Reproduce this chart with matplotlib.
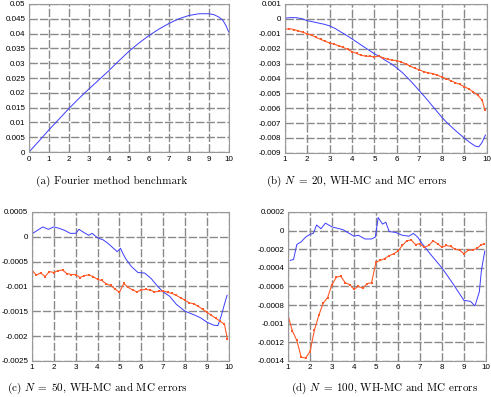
import matplotlib
matplotlib.use("Agg")
import matplotlib.pyplot as plt

plt.rcParams['font.family'] = ['Liberation Sans', 'DejaVu Sans']
plt.rcParams['mathtext.fontset'] = 'cm'

# (a) Fourier method benchmark
fourier_x = [0, 0.5, 1, 1.5, 2, 2.5, 3, 3.5, 4, 4.5, 5, 5.5, 6, 6.5, 7, 7.5, 8,
             8.5, 9, 9.25, 9.5, 9.7, 9.85, 10]
fourier_y = [0, 0.0037, 0.0075, 0.0111, 0.0147, 0.0181, 0.0213, 0.0244, 0.0275,
             0.0308, 0.0340, 0.0368, 0.0393, 0.0415, 0.0434, 0.0450, 0.0461,
             0.0467, 0.0467, 0.0464, 0.0456, 0.0445, 0.0428, 0.0405]

# MC error sample points (shared by b, c, d)
mc_x = [1.0, 1.2, 1.4, 1.6, 1.8, 2.0, 2.2, 2.4, 2.6, 2.8, 3.0, 3.2, 3.4, 3.6, 3.8,
        4.0, 4.2, 4.4, 4.6, 4.8, 5.0, 5.2, 5.4, 5.6, 5.8, 6.0, 6.2, 6.4, 6.6, 6.8,
        7.0, 7.2, 7.4, 7.6, 7.8, 8.0, 8.2, 8.4, 8.6, 8.8, 9.0, 9.2, 9.4, 9.6, 9.8, 9.93]

# (b) N = 20
whmc20_x = [1.0, 1.25, 1.5, 1.75, 2.0, 2.25, 2.5, 2.75, 3.0, 3.25, 3.5, 3.75, 4.0,
            4.25, 4.5, 4.75, 5.0, 5.25, 5.5, 5.75, 6.0, 6.25, 6.5, 6.75, 7.0, 7.25,
            7.5, 7.75, 8.0, 8.25, 8.5, 8.75, 9.0, 9.25, 9.5, 9.65, 9.8, 9.95]
whmc20_y = [0.00005, 0.00008, 0.00008, 0.00002, -0.00012, -0.0002, -0.00028,
            -0.00036, -0.00047, -0.00065, -0.00088, -0.0011, -0.00135, -0.0016,
            -0.00185, -0.0021, -0.00235, -0.00255, -0.0028, -0.00302, -0.0033,
            -0.00362, -0.004, -0.0044, -0.00483, -0.00525, -0.0057, -0.00615,
            -0.0066, -0.007, -0.00735, -0.00768, -0.008, -0.0083, -0.00855,
            -0.0086, -0.0083, -0.0078]
mc20_y = [-0.00072, -0.00065, -0.00072, -0.0008, -0.0009, -0.001, -0.0011,
          -0.00125, -0.00138, -0.0015, -0.00163, -0.0017, -0.0018, -0.00192,
          -0.00205, -0.0022, -0.00232, -0.00245, -0.0025, -0.00252, -0.00255,
          -0.0025, -0.00262, -0.00272, -0.00278, -0.0028, -0.0029, -0.00302,
          -0.00318, -0.00332, -0.00342, -0.00355, -0.00362, -0.00368, -0.00378,
          -0.0039, -0.00402, -0.00415, -0.00428, -0.0044, -0.00455, -0.0047,
          -0.0049, -0.00512, -0.00545, -0.00615]

# (c) N = 50
whmc50_x = [1.0, 1.25, 1.5, 1.75, 2.0, 2.25, 2.5, 2.75, 3.0, 3.15, 3.4, 3.6, 3.75,
            4.0, 4.25, 4.5, 4.75, 4.9, 5.05, 5.15, 5.3, 5.55, 5.85, 6.15, 6.45,
            6.75, 7.0, 7.3, 7.6, 8.0, 8.4, 8.7, 9.0, 9.3, 9.5, 9.65, 9.8, 9.92]
whmc50_y = [0.00006, 0.00013, 0.0002, 0.00015, 0.0002, 0.00017, 0.00013, 0.00007,
            0.00007, 0.00015, 0.00008, 0.00003, 0.00007, -0.00002, -0.00006,
            -0.00014, -0.00024, -0.0003, -0.00023, -0.00033, -0.00045, -0.0006,
            -0.00072, -0.00073, -0.00084, -0.001, -0.00111, -0.0012, -0.00136,
            -0.0015, -0.00157, -0.00163, -0.00172, -0.00178, -0.00179, -0.0016,
            -0.00136, -0.00118]
mc50_y = [-0.00067, -0.00077, -0.00073, -0.0008, -0.0007, -0.00072, -0.00068,
          -0.00067, -0.00074, -0.00076, -0.00076, -0.00082, -0.00078, -0.00077,
          -0.0008, -0.00086, -0.00088, -0.00095, -0.00098, -0.00105, -0.00112,
          -0.00094, -0.00102, -0.00107, -0.00111, -0.00107, -0.00106, -0.00107,
          -0.00111, -0.0011, -0.00109, -0.00112, -0.00114, -0.00118, -0.00123,
          -0.00128, -0.00133, -0.00135, -0.0014, -0.00146, -0.00152, -0.00158,
          -0.00164, -0.0017, -0.00176, -0.00205]

# (d) N = 100
whmc100_x = [1.1, 1.25, 1.4, 1.6, 1.8, 2.0, 2.15, 2.3, 2.5, 2.7, 3.0, 3.5, 4.0,
             4.2, 4.5, 4.8, 4.97, 5.1, 5.3, 5.45, 5.6, 5.9, 6.2, 6.5, 6.7, 6.9,
             7.1, 7.5, 8.0, 8.5, 9.0, 9.3, 9.5, 9.7, 9.8, 9.95]
whmc100_y = [-0.00032, -0.00031, -0.00015, -0.00012, -0.00007, -0.00004,
             -0.00003, 0.00006, 0.00002, 0.00008, 0.00004, 0.00001, -0.00006,
             -0.00005, -0.00009, -0.00009, -0.00007, 0.00014, 0.00007, 0.00009,
             -0.00001, -0.00002, -0.00005, -0.00006, -0.00003, -0.00007,
             -0.00014, -0.00026, -0.0004, -0.00057, -0.00075, -0.00076,
             -0.00081, -0.00066, -0.00042, -0.00022]
mc100_y = [-0.00091, -0.00108, -0.00118, -0.00136, -0.00137, -0.0013, -0.00107,
           -0.00091, -0.00078, -0.00072, -0.00058, -0.0005, -0.00049, -0.00056,
           -0.00058, -0.00063, -0.0006, -0.00062, -0.00057, -0.00056, -0.00034,
           -0.00032, -0.0003, -0.00027, -0.00025, -0.00022, -0.00016, -0.00011,
           -0.0001, -0.00015, -0.00014, -0.00018, -0.00016, -0.00011, -0.00014,
           -0.00018, -0.00016, -0.00017, -0.0002, -0.00021, -0.00025, -0.00021,
           -0.00021, -0.00019, -0.00015, -0.00014]

# tick labels
ticks_a_y = [0, 0.005, 0.01, 0.015, 0.02, 0.025, 0.03, 0.035, 0.04, 0.045, 0.05]
labels_a_y = ['0', '0.005', '0.01', '0.015', '0.02', '0.025', '0.03', '0.035',
              '0.04', '0.045', '0.05']
ticks_b_y = [0.001, 0, -0.001, -0.002, -0.003, -0.004, -0.005, -0.006, -0.007,
             -0.008, -0.009]
labels_b_y = ['0.001', '0', '-0.001', '-0.002', '-0.003', '-0.004', '-0.005',
              '-0.006', '-0.007', '-0.008', '-0.009']
ticks_c_y = [0.0005, 0, -0.0005, -0.001, -0.0015, -0.002, -0.0025]
labels_c_y = ['0.0005', '0', '-0.0005', '-0.001', '-0.0015', '-0.002', '-0.0025']
ticks_d_y = [0.0002, 0, -0.0002, -0.0004, -0.0006, -0.0008, -0.001, -0.0012, -0.0014]
labels_d_y = ['0.0002', '0', '-0.0002', '-0.0004', '-0.0006', '-0.0008', '-0.001',
              '-0.0012', '-0.0014']

captions = ["(a) Fourier method benchmark",
            r"(b) $N\;=\;20$, WH-MC and MC errors",
            r"(c) $N\;=\;50$, WH-MC and MC errors",
            r"(d) $N\;=\;100$, WH-MC and MC errors"]

BLUE = '#3c3cff'
RED = '#ff5a28'

fig = plt.figure(figsize=(4.91, 3.97), dpi=100)
ax_a = fig.add_axes([0.059, 0.617, 0.407, 0.373])
ax_b = fig.add_axes([0.580, 0.615, 0.411, 0.375])
ax_c = fig.add_axes([0.065, 0.091, 0.401, 0.375])
ax_d = fig.add_axes([0.5866, 0.091, 0.403, 0.375])


def style(ax, xlim, xticks, yticks, ylabels):
    ax.set_xlim(*xlim)
    ax.set_ylim(min(yticks), max(yticks))
    ax.set_xticks(xticks)
    ax.set_xticklabels([str(t) for t in xticks])
    ax.set_yticks(yticks)
    ax.set_yticklabels(ylabels)
    ax.tick_params(length=0, labelsize=5.8, pad=2.5)
    ax.grid(True, color='#8a8a8a', linestyle=(0, (6, 1.5)), linewidth=1.0)
    for s in ax.spines.values():
        s.set_color('#999999')
        s.set_linewidth(0.8)


ax_a.plot(fourier_x, fourier_y, color=BLUE, lw=0.7)
style(ax_a, (0, 10), list(range(0, 11)), ticks_a_y, labels_a_y)

ax_b.plot(whmc20_x, whmc20_y, color=BLUE, lw=0.7)
ax_b.plot(mc_x, mc20_y, color=RED, lw=0.8, marker='s', ms=1.8, mew=0)
style(ax_b, (1, 10), list(range(1, 11)), ticks_b_y, labels_b_y)

ax_c.plot(whmc50_x, whmc50_y, color=BLUE, lw=0.7)
ax_c.plot(mc_x, mc50_y, color=RED, lw=0.8, marker='s', ms=1.8, mew=0)
style(ax_c, (1, 10), list(range(1, 11)), ticks_c_y, labels_c_y)

ax_d.plot(whmc100_x, whmc100_y, color=BLUE, lw=0.7)
ax_d.plot(mc_x, mc100_y, color=RED, lw=0.8, marker='s', ms=1.8, mew=0)
style(ax_d, (1, 10), list(range(1, 11)), ticks_d_y, labels_d_y)

cap_pos = [(112, 181), (357, 181), (97, 388), (385, 388)]
for (px, py), text in zip(cap_pos, captions):
    fig.text(px / 491, 1 - py / 397, text, ha='center', va='center',
             fontsize=8, family=['cmr10', 'DejaVu Serif'])

fig.savefig('out.png', dpi=100)
